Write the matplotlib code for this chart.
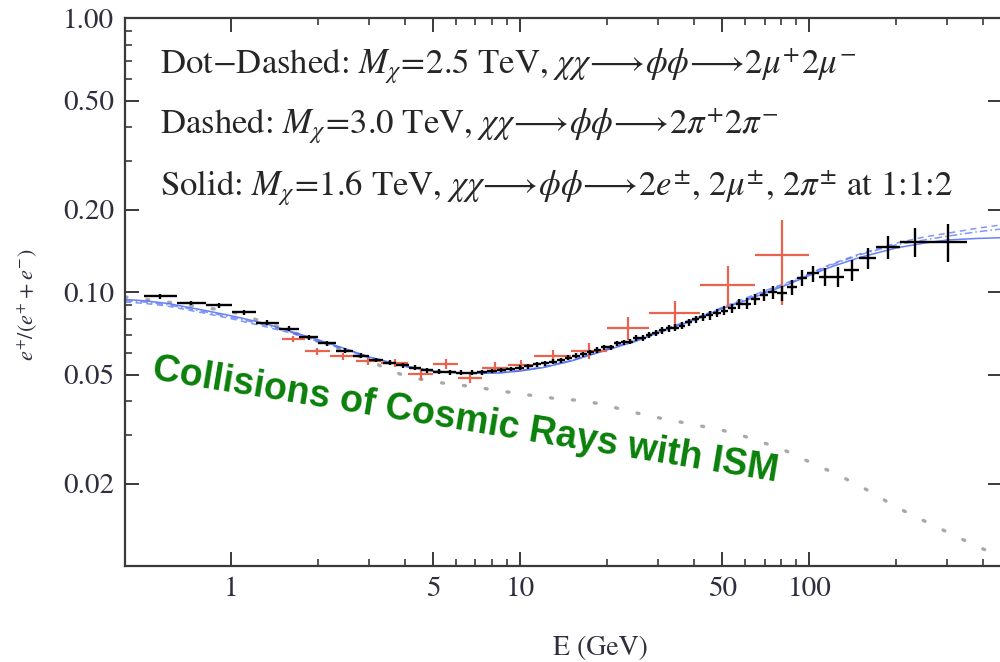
import numpy as np
import matplotlib
matplotlib.use("Agg")
import matplotlib.pyplot as plt

plt.rcParams["font.family"] = ["STIXGeneral", "DejaVu Serif"]
plt.rcParams["mathtext.fontset"] = "stix"

# AMS-02 positron fraction: energy bin edges (GeV), fraction, uncertainty
ams_lo = [0.50, 0.65, 0.82, 1.01, 1.22, 1.46, 1.72, 2.00, 2.31, 2.65,
          3.00, 3.36, 3.73, 4.12, 4.54, 5.00, 5.49, 6.00, 6.54, 7.10,
          7.69, 8.30, 8.95, 9.62, 10.32, 11.04, 11.80, 12.59, 13.41, 14.25,
          15.14, 16.05, 17.00, 17.98, 18.99, 20.04, 21.13, 22.25, 23.42, 24.62,
          25.90, 27.25, 28.68, 30.21, 31.82, 33.53, 35.36, 37.31, 39.39, 41.61,
          44.00, 46.57, 49.33, 52.33, 55.58, 59.13, 63.02, 67.31, 72.08, 77.43,
          83.48, 90.40, 98.40, 107.8, 118.9, 132.1, 148.8, 169.9, 206.0, 260.0]
ams_hi = ams_lo[1:] + [350.0]
ams_frac = [0.0966, 0.0913, 0.0894, 0.0843, 0.0772, 0.0735, 0.0684, 0.0650, 0.0612, 0.0585,
            0.0565, 0.0553, 0.0540, 0.0530, 0.0518, 0.0512, 0.0510, 0.0508, 0.0508, 0.0510,
            0.0516, 0.0520, 0.0524, 0.0530, 0.0536, 0.0545, 0.0550, 0.0558, 0.0565, 0.0575,
            0.0585, 0.0592, 0.0603, 0.0615, 0.0628, 0.0628, 0.0650, 0.0655, 0.0660, 0.0678,
            0.0682, 0.0696, 0.0710, 0.0726, 0.0738, 0.0742, 0.0755, 0.0775, 0.0795, 0.0812,
            0.0822, 0.0840, 0.0856, 0.0872, 0.0905, 0.0908, 0.0940, 0.0975, 0.1000, 0.0990,
            0.1040, 0.1130, 0.1170, 0.1140, 0.1140, 0.1200, 0.1330, 0.1460, 0.1530, 0.1530]
ams_err = [0.0019, 0.0018, 0.0018, 0.0017, 0.0016, 0.0015, 0.0014, 0.0013, 0.0012, 0.0012,
           0.0011, 0.0011, 0.0011, 0.0011, 0.0010, 0.0010, 0.0010, 0.0010, 0.0010, 0.0010,
           0.0010, 0.0010, 0.0010, 0.0010, 0.0011, 0.0011, 0.0011, 0.0011, 0.0012, 0.0012,
           0.0012, 0.0013, 0.0013, 0.0014, 0.0014, 0.0015, 0.0015, 0.0016, 0.0016, 0.0017,
           0.0018, 0.0018, 0.0019, 0.0020, 0.0021, 0.0022, 0.0023, 0.0025, 0.0026, 0.0028,
           0.0029, 0.0031, 0.0033, 0.0035, 0.0038, 0.0041, 0.0045, 0.0049, 0.0054, 0.0060,
           0.0066, 0.0073, 0.0080, 0.0088, 0.0095, 0.0105, 0.0120, 0.0140, 0.0190, 0.0240]

# PAMELA positron fraction
pam_lo = [1.5, 1.8, 2.2, 2.7, 3.3, 4.1, 5.0, 6.1, 7.4, 9.1, 11.2, 15.0, 20.0, 28.0, 42.0, 65.0]
pam_hi = [1.8, 2.2, 2.7, 3.3, 4.1, 5.0, 6.1, 7.4, 9.1, 11.2, 15.0, 20.0, 28.0, 42.0, 65.0, 100.0]
pam_frac = [0.0673, 0.0607, 0.0583, 0.0559, 0.0550, 0.0503, 0.0548, 0.0487, 0.0530, 0.0540,
            0.0585, 0.0612, 0.0740, 0.0840, 0.1060, 0.1370]
pam_err = [0.0018, 0.0018, 0.0018, 0.0018, 0.0018, 0.0024, 0.0022, 0.0022, 0.0024, 0.0026,
           0.0030, 0.0042, 0.0072, 0.0090, 0.0185, 0.0470]

# Dark-matter annihilation models plus secondary background
e_model = [0.43, 0.5, 0.6, 0.8, 1.0, 1.3, 1.6, 2.0, 2.5, 3.0, 4.0, 5.0, 6.0, 7.0, 8.5, 10, 12,
           15, 20, 25, 30, 40, 50, 60, 70, 85, 100, 120, 150, 200, 250, 300, 380, 462]
solid = [0.094, 0.093, 0.091, 0.086, 0.082, 0.077, 0.072, 0.067, 0.062, 0.058, 0.0537, 0.0515,
         0.0508, 0.0505, 0.0507, 0.0515, 0.053, 0.056, 0.0615, 0.066, 0.071, 0.079, 0.087, 0.093,
         0.099, 0.107, 0.115, 0.124, 0.134, 0.145, 0.151, 0.155, 0.157, 0.158]
dashed = [0.092, 0.091, 0.089, 0.084, 0.080, 0.075, 0.071, 0.066, 0.0615, 0.0575, 0.0535, 0.0515,
          0.0508, 0.0505, 0.0508, 0.0517, 0.0533, 0.0563, 0.062, 0.067, 0.072, 0.080, 0.088, 0.095,
          0.101, 0.109, 0.117, 0.127, 0.138, 0.151, 0.159, 0.164, 0.171, 0.176]
dotdash = [0.093, 0.092, 0.090, 0.085, 0.081, 0.076, 0.0715, 0.0665, 0.0618, 0.058, 0.0536, 0.0515,
           0.0508, 0.0506, 0.0508, 0.0516, 0.0532, 0.0562, 0.0618, 0.0665, 0.0715, 0.0795, 0.0875,
           0.094, 0.100, 0.108, 0.116, 0.126, 0.137, 0.149, 0.155, 0.160, 0.166, 0.170]

e_bg = [0.43, 0.6, 0.8, 1.0, 1.5, 2.0, 3.0, 3.5, 4.0, 5.0, 6.0, 7.5, 10, 13, 17, 20, 25, 30, 40,
        50, 60, 70, 80, 100, 120, 150, 200, 250, 300, 380, 462]
bg = [0.096, 0.092, 0.088, 0.085, 0.074, 0.066, 0.0565, 0.0520, 0.0495, 0.0470, 0.0460, 0.0445,
      0.0425, 0.0410, 0.0400, 0.0385, 0.0363, 0.0348, 0.0328, 0.0313, 0.0297, 0.0281, 0.0268,
      0.0240, 0.0220, 0.0196, 0.0164, 0.0146, 0.0133, 0.0118, 0.0108]

fig = plt.figure(figsize=(10, 6.62), dpi=100)
ax = fig.add_axes([0.125, 0.145, 0.8765, 0.8275])
ax.set_xscale("log")
ax.set_yscale("log")
ax.set_xlim(0.43, 462)
ax.set_ylim(0.01, 1.0)

blue = "#4d6cf5"
ax.plot(e_bg, bg, color="#a8a8a8", lw=2.4, linestyle=(0, (0.6, 6.0)),
        dash_capstyle="round", zorder=1)
ax.plot(e_model, solid, color=blue, lw=1.1, alpha=0.85, zorder=2)
ax.plot(e_model, dashed, color=blue, lw=1.1, alpha=0.7, linestyle=(0, (4, 3)), zorder=2)
ax.plot(e_model, dotdash, color=blue, lw=1.1, alpha=0.7, linestyle=(0, (5, 2, 1, 2)), zorder=2)

pam_lo_a, pam_hi_a, pam_y = np.array(pam_lo), np.array(pam_hi), np.array(pam_frac)
pam_x = np.sqrt(pam_lo_a * pam_hi_a)
ax.errorbar(pam_x, pam_y, xerr=[pam_x - pam_lo_a, pam_hi_a - pam_x], yerr=pam_err,
            fmt="none", ecolor="#e8644e", elinewidth=1.6, capsize=0, zorder=3)

ams_lo_a, ams_hi_a, ams_y = np.array(ams_lo), np.array(ams_hi), np.array(ams_frac)
ams_x = np.sqrt(ams_lo_a * ams_hi_a)
ax.errorbar(ams_x, ams_y, xerr=[ams_x - ams_lo_a, ams_hi_a - ams_x], yerr=ams_err,
            fmt="none", ecolor="black", elinewidth=1.7, capsize=0, zorder=4)

# axes, ticks and labels
for s in ax.spines.values():
    s.set_color("#3a3a3a")
    s.set_linewidth(1.6)

xt = [1, 5, 10, 50, 100]
ax.set_xticks(xt)
ax.set_xticklabels([str(v) for v in xt])
ax.set_xticks([2, 3, 4, 6, 7, 8, 9, 20, 30, 40, 60, 70, 80, 90, 200, 300, 400], minor=True)
ax.xaxis.set_minor_formatter(matplotlib.ticker.NullFormatter())
yt = [0.02, 0.05, 0.10, 0.20, 0.50, 1.00]
ax.set_yticks(yt)
ax.set_yticklabels([f"{v:.2f}" for v in yt])
ax.set_yticks([0.03, 0.04, 0.06, 0.07, 0.08, 0.09, 0.3, 0.4, 0.6, 0.7, 0.8, 0.9], minor=True)
ax.yaxis.set_minor_formatter(matplotlib.ticker.NullFormatter())

tick_col = "#2e2e3e"
ax.tick_params(which="major", direction="in", length=10, width=1.4, top=True, right=True,
               colors="#3a3a3a", labelcolor=tick_col, labelsize=21, pad=8)
ax.tick_params(which="minor", direction="in", length=5, width=1.2, top=True, right=False,
               colors="#3a3a3a")

ax.set_xlabel("E (GeV)", fontsize=20, color=tick_col)
ax.xaxis.set_label_coords(0.542, -0.128)
ax.set_ylabel("$e^{+}/(e^{+}+e^{-})$", fontsize=16, color=tick_col)
ax.yaxis.set_label_coords(-0.097, 0.476)

txt_col = "#262626"
fs = 25
ax.text(0.040, 0.914,
        r"Dot$-$Dashed: $M_\chi\!=\!2.5$ TeV, $\chi\chi\!\longrightarrow\!\phi\phi\!\longrightarrow\!2\mu^{+}2\mu^{-}$",
        transform=ax.transAxes, fontsize=fs, color=txt_col, va="center", ha="left")
ax.text(0.040, 0.804,
        r"Dashed: $M_\chi\!=\!3.0$ TeV, $\chi\chi\!\longrightarrow\!\phi\phi\!\longrightarrow\!2\pi^{+}2\pi^{-}$",
        transform=ax.transAxes, fontsize=fs, color=txt_col, va="center", ha="left")
ax.text(0.040, 0.689,
        r"Solid: $M_\chi\!=\!1.6$ TeV, $\chi\chi\!\longrightarrow\!\phi\phi\!\longrightarrow\!2e^{\pm}$, $2\mu^{\pm}$, $2\pi^{\pm}$ at 1:1:2",
        transform=ax.transAxes, fontsize=fs, color=txt_col, va="center", ha="left")

fig.text(0.465, 1 - 420 / 662, "Collisions of Cosmic Rays with ISM", fontsize=27,
         family=["Liberation Sans", "DejaVu Sans"], fontweight="bold", color="#0a800a",
         rotation=-9.3, rotation_mode="anchor", ha="center", va="center")

fig.savefig("out.png", dpi=100)
